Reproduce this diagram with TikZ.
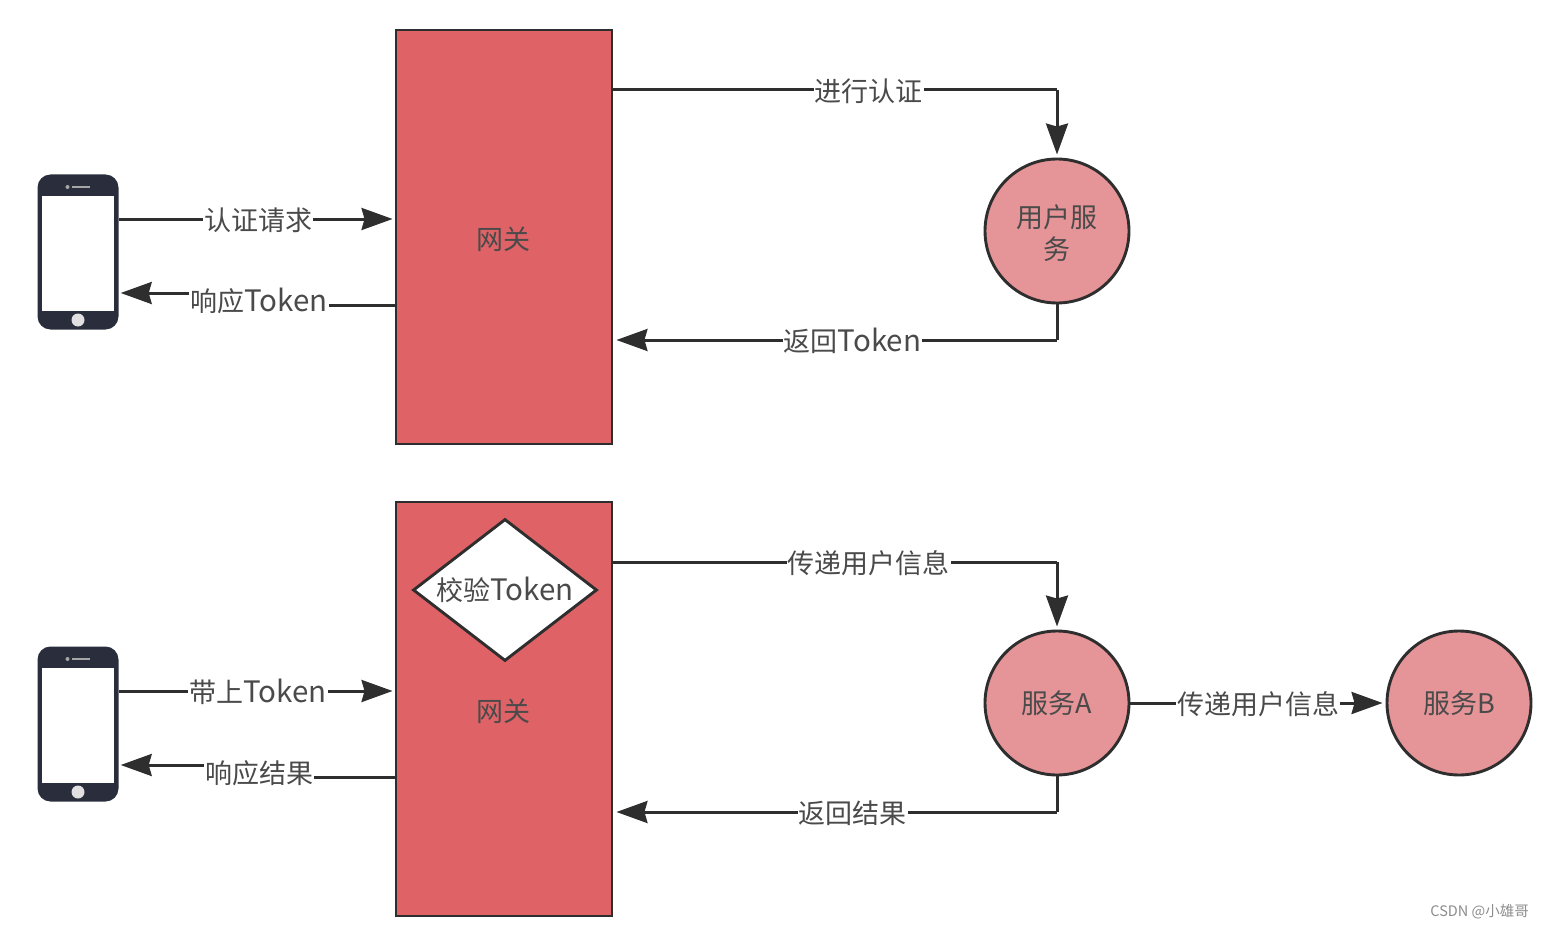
\documentclass[tikz,border=0pt]{standalone}
\usepackage{fontspec}
\setmainfont{Noto Sans CJK SC}[Scale=1]
\usetikzlibrary{arrows.meta,shapes.geometric,calc}
\definecolor{gate}{HTML}{DF6266}
\definecolor{svc}{HTML}{E59497}
\definecolor{ink}{HTML}{2E2E2E}
\definecolor{txt}{HTML}{4A4A4A}
\definecolor{phonebody}{HTML}{2A2E3C}
\newcommand{\tok}{{\fontsize{29.5}{30}\selectfont Token}}
\tikzset{
  gatebox/.style={draw=ink,fill=gate,line width=2.9pt,minimum width=216pt,minimum height=414pt,inner sep=0pt},
  svccircle/.style={circle,draw=ink,fill=svc,line width=2.9pt,minimum size=144pt,inner sep=0pt,align=center,text=txt,font=\fontsize{27}{32}\selectfont},
  checkbox/.style={diamond,draw=ink,fill=white,line width=2.9pt,minimum width=184pt,minimum height=142pt,inner sep=0pt,text=txt,font=\fontsize{27}{30}\selectfont},
  gatelabel/.style={text=txt,font=\fontsize{27}{30}\selectfont,inner sep=0pt},
  conn/.style={draw=ink,line width=3pt},
  tipped/.style={-{Stealth[length=31pt,width=22pt,inset=3pt]}},
  lab/.style={fill=white,text=txt,font=\fontsize{27}{30}\selectfont,inner sep=1pt,yshift=-1pt},
  phonecase/.style={fill=phonebody,rounded corners=13pt,minimum width=81pt,minimum height=155pt,inner sep=0pt},
  phonescreen/.style={fill=white,minimum width=72pt,minimum height=115pt,inner sep=0pt},
  phonehome/.style={circle,fill=black!12,minimum size=13pt,inner sep=0pt},
  phonedot/.style={circle,fill=black!35,minimum size=4pt,inner sep=0pt},
  phonespk/.style={fill=black!35,minimum width=18pt,minimum height=2.5pt,inner sep=0pt},
  wmark/.style={text=black!45,font=\fontsize{14.5}{16}\selectfont,inner sep=0pt}
}
\newcommand{\phonepic}[2]{%
  \node[phonecase] (#1) at (78,#2) {};
  \node[phonescreen] (#1s) at (78,#2+1.5) {};
  \node[phonehome] (#1h) at (78,#2+68) {};
  \node[phonedot] (#1d) at (67.5,#2-65) {};
  \node[phonespk] (#1k) at (81,#2-65) {};
}
\begin{document}
\begin{tikzpicture}[x=1pt,y=-1pt]
\useasboundingbox (0,0) rectangle (1544,928);
% phones
\phonepic{pa}{252}
\phonepic{pb}{724}
% gateways
\node[gatebox] (ga) at (504,237) {};
\node[gatelabel] (gal) at (503,239) {网关};
\node[gatebox] (gb) at (504,709) {};
\node[gatelabel] (gbl) at (503,711) {网关};
\node[checkbox] (chk) at (505,590) {\smash{\makebox[0pt]{\raisebox{-10pt}{校验\tok}}}};
% services
\node[svccircle] (us) at (1057,231) {\rule{0pt}{25pt}\raisebox{-3pt}{用户服}\\[3pt]务};
\node[svccircle] (sa) at (1057,703) {服务A};
\node[svccircle] (sb) at (1459,703) {服务B};
% routing heights
\coordinate (y1) at (0,219);
\coordinate (y2) at (0,305);
\coordinate (y2b) at (0,293);
\coordinate (y3) at (0,90);
\coordinate (y4) at (0,340);
\coordinate (y5) at (0,691);
\coordinate (y6) at (0,777);
\coordinate (y6b) at (0,765);
\coordinate (y7) at (0,562);
\coordinate (y8) at (0,812);
\coordinate (xm) at (260,0);
% top
\draw[conn,tipped] (pa.east |- y1) -- node[lab,pos=.509]{认证请求} ($(ga.west |- y1)+(-2,0)$);
\draw[conn,tipped] (ga.west |- y2) -- (xm |- y2) -- (xm |- y2b) -- ($(pa.east |- y2b)+(2,0)$);
\node[lab] (l2) at (259,300) {响应\tok};
\draw[conn] (ga.east |- y3) -- node[lab,pos=.576]{进行认证} (us.north |- y3);
\draw[conn,tipped] (us.north |- y3) -- ($(us.north)+(0,-3)$);
\draw[conn] (us.south) -- (us.south |- y4);
\draw[conn,tipped] (us.south |- y4) -- node[lab,pos=.464]{返回\tok} ($(ga.east |- y4)+(3,0)$);
% bottom
\draw[conn,tipped] (pb.east |- y5) -- node[lab,pos=.509]{带上\tok} ($(gb.west |- y5)+(-2,0)$);
\draw[conn,tipped] (gb.west |- y6) -- (xm |- y6) -- (xm |- y6b) -- ($(pb.east |- y6b)+(2,0)$);
\node[lab] (l6) at (259,772) {响应结果};
\draw[conn] (gb.east |- y7) -- node[lab,pos=.576]{传递用户信息} (sa.north |- y7);
\draw[conn,tipped] (sa.north |- y7) -- ($(sa.north)+(0,-3)$);
\draw[conn] (sa.south) -- (sa.south |- y8);
\draw[conn,tipped] (sa.south |- y8) -- node[lab,pos=.464]{返回结果} ($(gb.east |- y8)+(3,0)$);
\draw[conn,tipped] (sa.east) -- node[lab,pos=.506]{传递用户信息} ($(sb.west)+(-3,0)$);
% watermark
\node[wmark,anchor=east] (wm) at (1529,912) {CSDN @小雄哥};
\end{tikzpicture}
\end{document}
